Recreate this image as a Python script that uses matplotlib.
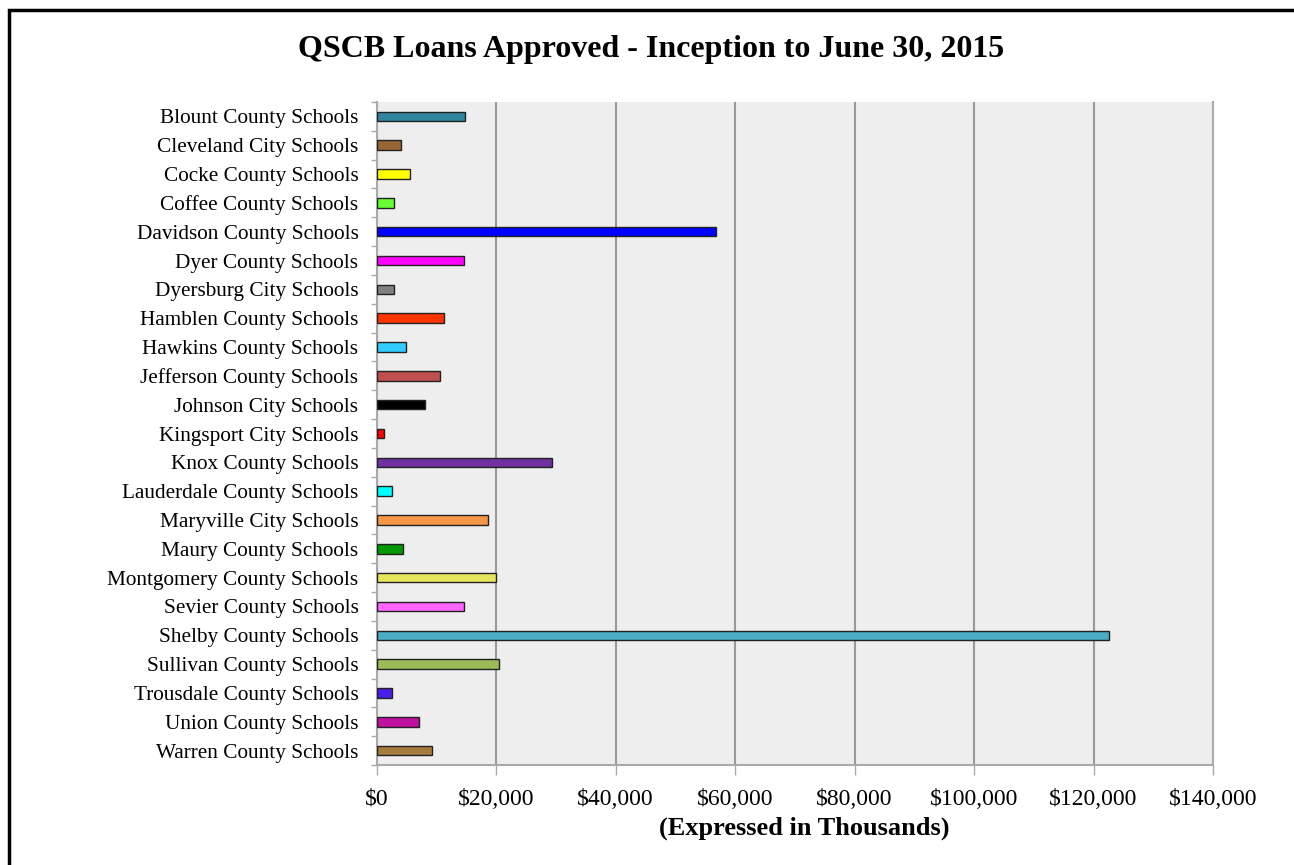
import matplotlib
matplotlib.use("Agg")
import matplotlib.pyplot as plt
from matplotlib.patches import Rectangle
from matplotlib.ticker import FuncFormatter, FixedLocator

categories = [
    "Blount County Schools", "Cleveland City Schools", "Cocke County Schools",
    "Coffee County Schools", "Davidson County Schools", "Dyer County Schools",
    "Dyersburg City Schools", "Hamblen County Schools", "Hawkins County Schools",
    "Jefferson County Schools", "Johnson City Schools", "Kingsport City Schools",
    "Knox County Schools", "Lauderdale County Schools", "Maryville City Schools",
    "Maury County Schools", "Montgomery County Schools", "Sevier County Schools",
    "Shelby County Schools", "Sullivan County Schools", "Trousdale County Schools",
    "Union County Schools", "Warren County Schools",
]
values = [
    14800, 4050, 5550, 2980, 56770, 14580, 2980, 11340, 4880, 10670, 8160, 1300,
    29350, 2540, 18590, 4480, 19930, 14580, 122540, 20530, 2590, 7060, 9230,
]
colors = [
    "#31859C", "#996633", "#FFFF00", "#66FF33", "#0000FF", "#FF00FF", "#808080",
    "#FF3300", "#33CCFF", "#C0504D", "#000000", "#FF0000", "#7030A0", "#00FFFF",
    "#F79646", "#009900", "#E6E65C", "#FF66FF", "#4BACC6", "#9BBB59", "#4B1EE8",
    "#C0109F", "#A67C3E",
]
xticks = [0, 20000, 40000, 60000, 80000, 100000, 120000, 140000]

plt.rcParams['font.family'] = ['Liberation Serif', 'DejaVu Serif']

fig = plt.figure(figsize=(12.94, 8.65), dpi=100)
ax = fig.add_axes([376.5 / 1294, 1 - 765 / 865, (1213 - 376.5) / 1294, (765 - 102) / 865])

n = len(categories)
ypos = list(range(n))
ax.barh(ypos, values, height=0.33, color=colors, edgecolor="#222222", linewidth=1.0, zorder=3)

ax.set_xlim(0, 140000)
ax.set_ylim(n - 0.5, -0.5)
ax.set_facecolor("#EEEEEE")

ax.set_yticks(ypos)
ax.set_yticklabels(categories, fontsize=15.3)
ax.tick_params(axis='y', length=0, pad=13)
ax.yaxis.set_minor_locator(FixedLocator([i - 0.5 for i in range(n + 1)]))
ax.tick_params(axis='y', which='minor', length=4, color="#AAAAAA", width=1)

ax.set_xticks(xticks)
ax.xaxis.set_major_formatter(FuncFormatter(lambda v, p: "${:,.0f}".format(v)))
ax.tick_params(axis='x', labelsize=17, length=7, color="#AAAAAA", width=1, pad=10)

ax.grid(axis='x', color="#999999", linewidth=1.5, zorder=1)
ax.grid(axis='y', visible=False)
ax.spines["top"].set_visible(False)
for s in ["left", "bottom", "right"]:
    ax.spines[s].set_color("#AAAAAA")
    ax.spines[s].set_linewidth(1.5)

ax.set_xlabel("(Expressed in Thousands)", fontsize=19, fontweight="bold")
ax.xaxis.label.set_verticalalignment("top")
ax.xaxis.set_label_coords((804 - 376.5) / (1213 - 376.5), -(817 - 765) / (765 - 102))

fig.text(0.5 + 8 / 1294 / 2, 1 - 49 / 865, "QSCB Loans Approved - Inception to June 30, 2015",
         ha="center", va="center", fontsize=23, fontweight="bold")

fig.patches.append(Rectangle((8.5 / 1294, -0.05), 1.2, 1.05 - 9.5 / 865,
                             transform=fig.transFigure, fill=False,
                             edgecolor="black", linewidth=2.5))

fig.savefig("out.png", dpi=100)
